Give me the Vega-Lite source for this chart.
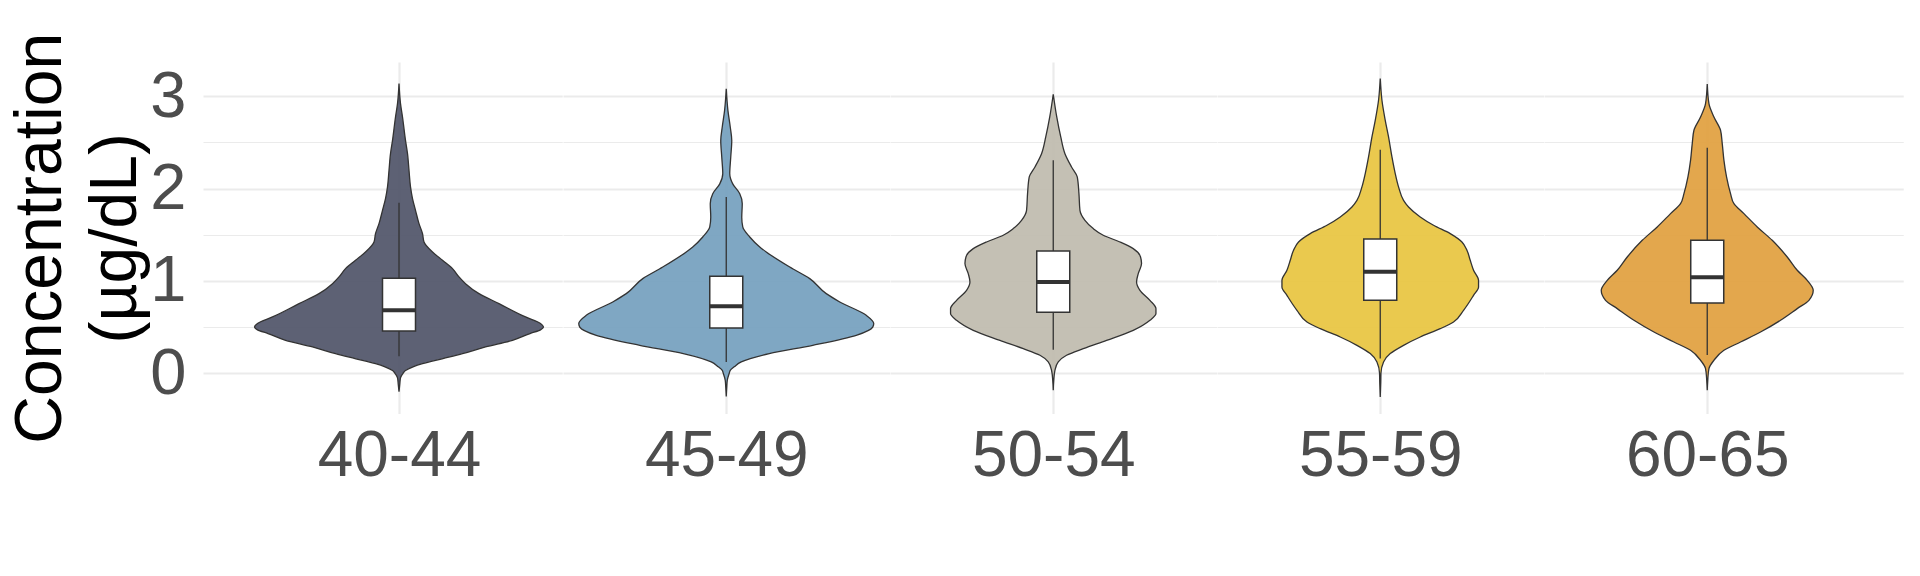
{
  "$schema": "https://vega.github.io/schema/vega-lite/v6.json",
  "background": "#FFFFFF",
  "padding": {"left": 7, "top": 32, "right": 5, "bottom": 5},
  "spacing": 0,
  "datasets": {
    "violin": [
      {"group": "40-44", "conc": -0.2, "density": 0},
      {"group": "40-44", "conc": -0.12, "density": 0.0075},
      {"group": "40-44", "conc": -0.05, "density": 0.015},
      {"group": "40-44", "conc": 0, "density": 0.04},
      {"group": "40-44", "conc": 0.03, "density": 0.065},
      {"group": "40-44", "conc": 0.07, "density": 0.14},
      {"group": "40-44", "conc": 0.105, "density": 0.235},
      {"group": "40-44", "conc": 0.16, "density": 0.44},
      {"group": "40-44", "conc": 0.213, "density": 0.635},
      {"group": "40-44", "conc": 0.285, "density": 0.865},
      {"group": "40-44", "conc": 0.357, "density": 1.135},
      {"group": "40-44", "conc": 0.43, "density": 1.31},
      {"group": "40-44", "conc": 0.47, "density": 1.415},
      {"group": "40-44", "conc": 0.5, "density": 1.445},
      {"group": "40-44", "conc": 0.54, "density": 1.415},
      {"group": "40-44", "conc": 0.61, "density": 1.265},
      {"group": "40-44", "conc": 0.754, "density": 1.0},
      {"group": "40-44", "conc": 0.862, "density": 0.8},
      {"group": "40-44", "conc": 0.97, "density": 0.665},
      {"group": "40-44", "conc": 1.043, "density": 0.6},
      {"group": "40-44", "conc": 1.133, "density": 0.535},
      {"group": "40-44", "conc": 1.223, "density": 0.435},
      {"group": "40-44", "conc": 1.313, "density": 0.335},
      {"group": "40-44", "conc": 1.421, "density": 0.25},
      {"group": "40-44", "conc": 1.512, "density": 0.235},
      {"group": "40-44", "conc": 1.62, "density": 0.2},
      {"group": "40-44", "conc": 1.764, "density": 0.165},
      {"group": "40-44", "conc": 1.89, "density": 0.135},
      {"group": "40-44", "conc": 2.017, "density": 0.115},
      {"group": "40-44", "conc": 2.197, "density": 0.1},
      {"group": "40-44", "conc": 2.377, "density": 0.085},
      {"group": "40-44", "conc": 2.52, "density": 0.065},
      {"group": "40-44", "conc": 2.774, "density": 0.035},
      {"group": "40-44", "conc": 2.918, "density": 0.015},
      {"group": "40-44", "conc": 3.135, "density": 0},
      {"group": "45-49", "conc": -0.25, "density": 0},
      {"group": "45-49", "conc": -0.15, "density": 0.005},
      {"group": "45-49", "conc": -0.076, "density": 0.01},
      {"group": "45-49", "conc": 0, "density": 0.03},
      {"group": "45-49", "conc": 0.032, "density": 0.04},
      {"group": "45-49", "conc": 0.07, "density": 0.08},
      {"group": "45-49", "conc": 0.123, "density": 0.15},
      {"group": "45-49", "conc": 0.213, "density": 0.43},
      {"group": "45-49", "conc": 0.303, "density": 0.865},
      {"group": "45-49", "conc": 0.411, "density": 1.3},
      {"group": "45-49", "conc": 0.5, "density": 1.465},
      {"group": "45-49", "conc": 0.538, "density": 1.475},
      {"group": "45-49", "conc": 0.628, "density": 1.4},
      {"group": "45-49", "conc": 0.772, "density": 1.135},
      {"group": "45-49", "conc": 0.862, "density": 1.0},
      {"group": "45-49", "conc": 1.025, "density": 0.835},
      {"group": "45-49", "conc": 1.15, "density": 0.635},
      {"group": "45-49", "conc": 1.313, "density": 0.4},
      {"group": "45-49", "conc": 1.367, "density": 0.335},
      {"group": "45-49", "conc": 1.475, "density": 0.235},
      {"group": "45-49", "conc": 1.584, "density": 0.165},
      {"group": "45-49", "conc": 1.69, "density": 0.155},
      {"group": "45-49", "conc": 1.836, "density": 0.16},
      {"group": "45-49", "conc": 1.944, "density": 0.135},
      {"group": "45-49", "conc": 2.05, "density": 0.065},
      {"group": "45-49", "conc": 2.16, "density": 0.035},
      {"group": "45-49", "conc": 2.34, "density": 0.045},
      {"group": "45-49", "conc": 2.52, "density": 0.055},
      {"group": "45-49", "conc": 2.666, "density": 0.04},
      {"group": "45-49", "conc": 2.846, "density": 0.0165},
      {"group": "45-49", "conc": 3.08, "density": 0},
      {"group": "50-54", "conc": -0.184, "density": 0},
      {"group": "50-54", "conc": -0.076, "density": 0.005},
      {"group": "50-54", "conc": 0.032, "density": 0.017},
      {"group": "50-54", "conc": 0.123, "density": 0.05},
      {"group": "50-54", "conc": 0.195, "density": 0.133},
      {"group": "50-54", "conc": 0.267, "density": 0.3},
      {"group": "50-54", "conc": 0.357, "density": 0.533},
      {"group": "50-54", "conc": 0.465, "density": 0.8},
      {"group": "50-54", "conc": 0.574, "density": 0.967},
      {"group": "50-54", "conc": 0.646, "density": 1.027},
      {"group": "50-54", "conc": 0.7, "density": 1.027},
      {"group": "50-54", "conc": 0.79, "density": 0.967},
      {"group": "50-54", "conc": 0.898, "density": 0.867},
      {"group": "50-54", "conc": 0.988, "density": 0.833},
      {"group": "50-54", "conc": 1.079, "density": 0.85},
      {"group": "50-54", "conc": 1.187, "density": 0.883},
      {"group": "50-54", "conc": 1.259, "density": 0.873},
      {"group": "50-54", "conc": 1.349, "density": 0.8},
      {"group": "50-54", "conc": 1.421, "density": 0.667},
      {"group": "50-54", "conc": 1.494, "density": 0.5},
      {"group": "50-54", "conc": 1.566, "density": 0.4},
      {"group": "50-54", "conc": 1.656, "density": 0.317},
      {"group": "50-54", "conc": 1.764, "density": 0.267},
      {"group": "50-54", "conc": 1.944, "density": 0.257},
      {"group": "50-54", "conc": 2.125, "density": 0.24},
      {"group": "50-54", "conc": 2.233, "density": 0.183},
      {"group": "50-54", "conc": 2.377, "density": 0.117},
      {"group": "50-54", "conc": 2.558, "density": 0.075},
      {"group": "50-54", "conc": 2.774, "density": 0.035},
      {"group": "50-54", "conc": 3.02, "density": 0},
      {"group": "55-59", "conc": -0.256, "density": 0},
      {"group": "55-59", "conc": -0.1, "density": 0.005},
      {"group": "55-59", "conc": 0, "density": 0.007},
      {"group": "55-59", "conc": 0.123, "density": 0.033},
      {"group": "55-59", "conc": 0.213, "density": 0.1},
      {"group": "55-59", "conc": 0.303, "density": 0.233},
      {"group": "55-59", "conc": 0.393, "density": 0.4},
      {"group": "55-59", "conc": 0.483, "density": 0.6},
      {"group": "55-59", "conc": 0.556, "density": 0.733},
      {"group": "55-59", "conc": 0.682, "density": 0.833},
      {"group": "55-59", "conc": 0.844, "density": 0.933},
      {"group": "55-59", "conc": 0.934, "density": 0.983},
      {"group": "55-59", "conc": 1.006, "density": 0.983},
      {"group": "55-59", "conc": 1.115, "density": 0.933},
      {"group": "55-59", "conc": 1.223, "density": 0.9},
      {"group": "55-59", "conc": 1.331, "density": 0.867},
      {"group": "55-59", "conc": 1.421, "density": 0.817},
      {"group": "55-59", "conc": 1.512, "density": 0.7},
      {"group": "55-59", "conc": 1.602, "density": 0.533},
      {"group": "55-59", "conc": 1.692, "density": 0.4},
      {"group": "55-59", "conc": 1.8, "density": 0.283},
      {"group": "55-59", "conc": 1.872, "density": 0.233},
      {"group": "55-59", "conc": 2.017, "density": 0.183},
      {"group": "55-59", "conc": 2.161, "density": 0.15},
      {"group": "55-59", "conc": 2.341, "density": 0.117},
      {"group": "55-59", "conc": 2.558, "density": 0.083},
      {"group": "55-59", "conc": 2.738, "density": 0.05},
      {"group": "55-59", "conc": 2.955, "density": 0.017},
      {"group": "55-59", "conc": 3.19, "density": 0},
      {"group": "60-65", "conc": -0.184, "density": 0},
      {"group": "60-65", "conc": -0.076, "density": 0.005},
      {"group": "60-65", "conc": 0.05, "density": 0.017},
      {"group": "60-65", "conc": 0.141, "density": 0.067},
      {"group": "60-65", "conc": 0.249, "density": 0.167},
      {"group": "60-65", "conc": 0.339, "density": 0.333},
      {"group": "60-65", "conc": 0.447, "density": 0.533},
      {"group": "60-65", "conc": 0.574, "density": 0.733},
      {"group": "60-65", "conc": 0.7, "density": 0.9},
      {"group": "60-65", "conc": 0.79, "density": 1.017},
      {"group": "60-65", "conc": 0.898, "density": 1.06},
      {"group": "60-65", "conc": 1.006, "density": 1.0},
      {"group": "60-65", "conc": 1.115, "density": 0.9},
      {"group": "60-65", "conc": 1.259, "density": 0.8},
      {"group": "60-65", "conc": 1.439, "density": 0.65},
      {"group": "60-65", "conc": 1.584, "density": 0.5},
      {"group": "60-65", "conc": 1.728, "density": 0.367},
      {"group": "60-65", "conc": 1.836, "density": 0.267},
      {"group": "60-65", "conc": 1.944, "density": 0.233},
      {"group": "60-65", "conc": 2.125, "density": 0.193},
      {"group": "60-65", "conc": 2.305, "density": 0.167},
      {"group": "60-65", "conc": 2.486, "density": 0.15},
      {"group": "60-65", "conc": 2.63, "density": 0.133},
      {"group": "60-65", "conc": 2.774, "density": 0.067},
      {"group": "60-65", "conc": 2.918, "density": 0.017},
      {"group": "60-65", "conc": 3.13, "density": 0}
    ],
    "box": [
      {"group": "40-44", "lo": 0.184, "q1": 0.458, "med": 0.682, "q3": 1.028, "hi": 1.847},
      {"group": "45-49", "lo": 0.123, "q1": 0.49, "med": 0.725, "q3": 1.05, "hi": 1.908},
      {"group": "50-54", "lo": 0.256, "q1": 0.66, "med": 0.988, "q3": 1.324, "hi": 2.305},
      {"group": "55-59", "lo": 0.159, "q1": 0.79, "med": 1.1, "q3": 1.454, "hi": 2.42},
      {"group": "60-65", "lo": 0.198, "q1": 0.76, "med": 1.04, "q3": 1.44, "hi": 2.44}
    ]
  },
  "hconcat": [
    {
      "width": 359.25, "height": 351.6,
      "layer": [
        {"data": {"name": "violin"},
         "transform": [{"stack": "density", "groupby": ["group", "conc"], "offset": "center", "as": ["x0", "x1"]}, {"filter": {"field": "group", "equal": "40-44"}}],
         "mark": {"type": "area", "orient": "horizontal", "interpolate": "monotone", "stroke": "#333333", "strokeWidth": 1.3, "fillOpacity": 0.92},
         "encoding": {
           "y": {"field": "conc", "type": "quantitative", "title": ["Concentration", "(µg/dL)"], "scale": {"domain": [-0.436, 3.369], "nice": false, "zero": false},
             "axis": {"values": [0, 0.5, 1, 1.5, 2, 2.5, 3], "labelExpr": "datum.value % 1 === 0 ? '' + datum.value : ''", "labelOverlap": false, "grid": true, "gridColor": "#EBEBEB", "gridWidth": {"condition": {"test": "datum.value % 1 === 0", "value": 2.2}, "value": 1.1}, "ticks": false, "domain": false, "labelFont": "Liberation Sans", "labelFontSize": 65, "labelColor": "#4D4D4D", "labelPadding": 17, "titleFont": "Liberation Sans", "titleFontSize": 66, "titleFontWeight": "normal", "titleColor": "#000000", "titleLineHeight": 75, "titlePadding": 0}},
           "x": {"field": "x0", "type": "quantitative", "scale": {"domain": [-0.2425, 1.55375], "nice": false, "zero": false},
             "axis": {"values": [0.7375], "labelExpr": "'40-44'", "grid": true, "gridColor": "#EBEBEB", "gridWidth": 2.2, "ticks": false, "domain": false, "labelFont": "Liberation Sans", "labelFontSize": 64, "labelColor": "#4D4D4D", "labelPadding": 11, "labelFlush": false, "title": null}},
           "x2": {"field": "x1"},
           "color": {"field": "group", "type": "nominal", "scale": {"domain": ["40-44", "45-49", "50-54", "55-59", "60-65"], "range": ["#4F5468", "#74A0BE", "#BFBBAE", "#E8C43F", "#E19F3E"]}, "legend": null}
         }},
        {"data": {"name": "box"}, "transform": [{"filter": {"field": "group", "equal": "40-44"}}],
         "mark": {"type": "rule", "color": "#333333", "strokeWidth": 1.3},
         "encoding": {"x": {"datum": 0.7375, "type": "quantitative"}, "y": {"field": "lo", "type": "quantitative", "title": ["Concentration", "(µg/dL)"]}, "y2": {"field": "hi"}}},
        {"data": {"name": "box"}, "transform": [{"filter": {"field": "group", "equal": "40-44"}}],
         "mark": {"type": "rect", "fill": "#FFFFFF", "stroke": "#333333", "strokeWidth": 1.5},
         "encoding": {"x": {"datum": 0.655, "type": "quantitative"}, "x2": {"datum": 0.82}, "y": {"field": "q1", "type": "quantitative", "title": ["Concentration", "(µg/dL)"]}, "y2": {"field": "q3"}}},
        {"data": {"name": "box"}, "transform": [{"filter": {"field": "group", "equal": "40-44"}}],
         "mark": {"type": "rule", "color": "#333333", "strokeWidth": 4},
         "encoding": {"x": {"datum": 0.655, "type": "quantitative"}, "x2": {"datum": 0.82}, "y": {"field": "med", "type": "quantitative", "title": ["Concentration", "(µg/dL)"]}}}
      ]
    },
    {
      "width": 326.5, "height": 351.6,
      "layer": [
        {"data": {"name": "violin"},
         "transform": [{"stack": "density", "groupby": ["group", "conc"], "offset": "center", "as": ["x0", "x1"]}, {"filter": {"field": "group", "equal": "45-49"}}],
         "mark": {"type": "area", "orient": "horizontal", "interpolate": "monotone", "stroke": "#333333", "strokeWidth": 1.3, "fillOpacity": 0.92},
         "encoding": {
           "y": {"field": "conc", "type": "quantitative", "title": null, "scale": {"domain": [-0.436, 3.369], "nice": false, "zero": false},
             "axis": {"values": [0, 0.5, 1, 1.5, 2, 2.5, 3], "labels": false, "grid": true, "gridColor": "#EBEBEB", "gridWidth": {"condition": {"test": "datum.value % 1 === 0", "value": 2.2}, "value": 1.1}, "ticks": false, "domain": false, "title": null}},
           "x": {"field": "x0", "type": "quantitative", "scale": {"domain": [-0.07875, 1.55375], "nice": false, "zero": false},
             "axis": {"values": [0.7375], "labelExpr": "'45-49'", "grid": true, "gridColor": "#EBEBEB", "gridWidth": 2.2, "ticks": false, "domain": false, "labelFont": "Liberation Sans", "labelFontSize": 64, "labelColor": "#4D4D4D", "labelPadding": 11, "labelFlush": false, "title": null}},
           "x2": {"field": "x1"},
           "color": {"field": "group", "type": "nominal", "scale": {"domain": ["40-44", "45-49", "50-54", "55-59", "60-65"], "range": ["#4F5468", "#74A0BE", "#BFBBAE", "#E8C43F", "#E19F3E"]}, "legend": null}
         }},
        {"data": {"name": "box"}, "transform": [{"filter": {"field": "group", "equal": "45-49"}}],
         "mark": {"type": "rule", "color": "#333333", "strokeWidth": 1.3},
         "encoding": {"x": {"datum": 0.7375, "type": "quantitative"}, "y": {"field": "lo", "type": "quantitative", "title": null}, "y2": {"field": "hi"}}},
        {"data": {"name": "box"}, "transform": [{"filter": {"field": "group", "equal": "45-49"}}],
         "mark": {"type": "rect", "fill": "#FFFFFF", "stroke": "#333333", "strokeWidth": 1.5},
         "encoding": {"x": {"datum": 0.655, "type": "quantitative"}, "x2": {"datum": 0.82}, "y": {"field": "q1", "type": "quantitative", "title": null}, "y2": {"field": "q3"}}},
        {"data": {"name": "box"}, "transform": [{"filter": {"field": "group", "equal": "45-49"}}],
         "mark": {"type": "rule", "color": "#333333", "strokeWidth": 4},
         "encoding": {"x": {"datum": 0.655, "type": "quantitative"}, "x2": {"datum": 0.82}, "y": {"field": "med", "type": "quantitative", "title": null}}}
      ]
    },
    {
      "width": 326.5, "height": 351.6,
      "layer": [
        {"data": {"name": "violin"},
         "transform": [{"stack": "density", "groupby": ["group", "conc"], "offset": "center", "as": ["x0", "x1"]}, {"filter": {"field": "group", "equal": "50-54"}}],
         "mark": {"type": "area", "orient": "horizontal", "interpolate": "monotone", "stroke": "#333333", "strokeWidth": 1.3, "fillOpacity": 0.92},
         "encoding": {
           "y": {"field": "conc", "type": "quantitative", "title": null, "scale": {"domain": [-0.436, 3.369], "nice": false, "zero": false},
             "axis": {"values": [0, 0.5, 1, 1.5, 2, 2.5, 3], "labels": false, "grid": true, "gridColor": "#EBEBEB", "gridWidth": {"condition": {"test": "datum.value % 1 === 0", "value": 2.2}, "value": 1.1}, "ticks": false, "domain": false, "title": null}},
           "x": {"field": "x0", "type": "quantitative", "scale": {"domain": [-0.07875, 1.55375], "nice": false, "zero": false},
             "axis": {"values": [0.7375], "labelExpr": "'50-54'", "grid": true, "gridColor": "#EBEBEB", "gridWidth": 2.2, "ticks": false, "domain": false, "labelFont": "Liberation Sans", "labelFontSize": 64, "labelColor": "#4D4D4D", "labelPadding": 11, "labelFlush": false, "title": null}},
           "x2": {"field": "x1"},
           "color": {"field": "group", "type": "nominal", "scale": {"domain": ["40-44", "45-49", "50-54", "55-59", "60-65"], "range": ["#4F5468", "#74A0BE", "#BFBBAE", "#E8C43F", "#E19F3E"]}, "legend": null}
         }},
        {"data": {"name": "box"}, "transform": [{"filter": {"field": "group", "equal": "50-54"}}],
         "mark": {"type": "rule", "color": "#333333", "strokeWidth": 1.3},
         "encoding": {"x": {"datum": 0.7375, "type": "quantitative"}, "y": {"field": "lo", "type": "quantitative", "title": null}, "y2": {"field": "hi"}}},
        {"data": {"name": "box"}, "transform": [{"filter": {"field": "group", "equal": "50-54"}}],
         "mark": {"type": "rect", "fill": "#FFFFFF", "stroke": "#333333", "strokeWidth": 1.5},
         "encoding": {"x": {"datum": 0.655, "type": "quantitative"}, "x2": {"datum": 0.82}, "y": {"field": "q1", "type": "quantitative", "title": null}, "y2": {"field": "q3"}}},
        {"data": {"name": "box"}, "transform": [{"filter": {"field": "group", "equal": "50-54"}}],
         "mark": {"type": "rule", "color": "#333333", "strokeWidth": 4},
         "encoding": {"x": {"datum": 0.655, "type": "quantitative"}, "x2": {"datum": 0.82}, "y": {"field": "med", "type": "quantitative", "title": null}}}
      ]
    },
    {
      "width": 326.5, "height": 351.6,
      "layer": [
        {"data": {"name": "violin"},
         "transform": [{"stack": "density", "groupby": ["group", "conc"], "offset": "center", "as": ["x0", "x1"]}, {"filter": {"field": "group", "equal": "55-59"}}],
         "mark": {"type": "area", "orient": "horizontal", "interpolate": "monotone", "stroke": "#333333", "strokeWidth": 1.3, "fillOpacity": 0.92},
         "encoding": {
           "y": {"field": "conc", "type": "quantitative", "title": null, "scale": {"domain": [-0.436, 3.369], "nice": false, "zero": false},
             "axis": {"values": [0, 0.5, 1, 1.5, 2, 2.5, 3], "labels": false, "grid": true, "gridColor": "#EBEBEB", "gridWidth": {"condition": {"test": "datum.value % 1 === 0", "value": 2.2}, "value": 1.1}, "ticks": false, "domain": false, "title": null}},
           "x": {"field": "x0", "type": "quantitative", "scale": {"domain": [-0.07875, 1.55375], "nice": false, "zero": false},
             "axis": {"values": [0.7375], "labelExpr": "'55-59'", "grid": true, "gridColor": "#EBEBEB", "gridWidth": 2.2, "ticks": false, "domain": false, "labelFont": "Liberation Sans", "labelFontSize": 64, "labelColor": "#4D4D4D", "labelPadding": 11, "labelFlush": false, "title": null}},
           "x2": {"field": "x1"},
           "color": {"field": "group", "type": "nominal", "scale": {"domain": ["40-44", "45-49", "50-54", "55-59", "60-65"], "range": ["#4F5468", "#74A0BE", "#BFBBAE", "#E8C43F", "#E19F3E"]}, "legend": null}
         }},
        {"data": {"name": "box"}, "transform": [{"filter": {"field": "group", "equal": "55-59"}}],
         "mark": {"type": "rule", "color": "#333333", "strokeWidth": 1.3},
         "encoding": {"x": {"datum": 0.7375, "type": "quantitative"}, "y": {"field": "lo", "type": "quantitative", "title": null}, "y2": {"field": "hi"}}},
        {"data": {"name": "box"}, "transform": [{"filter": {"field": "group", "equal": "55-59"}}],
         "mark": {"type": "rect", "fill": "#FFFFFF", "stroke": "#333333", "strokeWidth": 1.5},
         "encoding": {"x": {"datum": 0.655, "type": "quantitative"}, "x2": {"datum": 0.82}, "y": {"field": "q1", "type": "quantitative", "title": null}, "y2": {"field": "q3"}}},
        {"data": {"name": "box"}, "transform": [{"filter": {"field": "group", "equal": "55-59"}}],
         "mark": {"type": "rule", "color": "#333333", "strokeWidth": 4},
         "encoding": {"x": {"datum": 0.655, "type": "quantitative"}, "x2": {"datum": 0.82}, "y": {"field": "med", "type": "quantitative", "title": null}}}
      ]
    },
    {
      "width": 359.25, "height": 351.6,
      "layer": [
        {"data": {"name": "violin"},
         "transform": [{"stack": "density", "groupby": ["group", "conc"], "offset": "center", "as": ["x0", "x1"]}, {"filter": {"field": "group", "equal": "60-65"}}],
         "mark": {"type": "area", "orient": "horizontal", "interpolate": "monotone", "stroke": "#333333", "strokeWidth": 1.3, "fillOpacity": 0.92},
         "encoding": {
           "y": {"field": "conc", "type": "quantitative", "title": null, "scale": {"domain": [-0.436, 3.369], "nice": false, "zero": false},
             "axis": {"values": [0, 0.5, 1, 1.5, 2, 2.5, 3], "labels": false, "grid": true, "gridColor": "#EBEBEB", "gridWidth": {"condition": {"test": "datum.value % 1 === 0", "value": 2.2}, "value": 1.1}, "ticks": false, "domain": false, "title": null}},
           "x": {"field": "x0", "type": "quantitative", "scale": {"domain": [-0.07875, 1.7175], "nice": false, "zero": false},
             "axis": {"values": [0.7375], "labelExpr": "'60-65'", "grid": true, "gridColor": "#EBEBEB", "gridWidth": 2.2, "ticks": false, "domain": false, "labelFont": "Liberation Sans", "labelFontSize": 64, "labelColor": "#4D4D4D", "labelPadding": 11, "labelFlush": false, "title": null}},
           "x2": {"field": "x1"},
           "color": {"field": "group", "type": "nominal", "scale": {"domain": ["40-44", "45-49", "50-54", "55-59", "60-65"], "range": ["#4F5468", "#74A0BE", "#BFBBAE", "#E8C43F", "#E19F3E"]}, "legend": null}
         }},
        {"data": {"name": "box"}, "transform": [{"filter": {"field": "group", "equal": "60-65"}}],
         "mark": {"type": "rule", "color": "#333333", "strokeWidth": 1.3},
         "encoding": {"x": {"datum": 0.7375, "type": "quantitative"}, "y": {"field": "lo", "type": "quantitative", "title": null}, "y2": {"field": "hi"}}},
        {"data": {"name": "box"}, "transform": [{"filter": {"field": "group", "equal": "60-65"}}],
         "mark": {"type": "rect", "fill": "#FFFFFF", "stroke": "#333333", "strokeWidth": 1.5},
         "encoding": {"x": {"datum": 0.655, "type": "quantitative"}, "x2": {"datum": 0.82}, "y": {"field": "q1", "type": "quantitative", "title": null}, "y2": {"field": "q3"}}},
        {"data": {"name": "box"}, "transform": [{"filter": {"field": "group", "equal": "60-65"}}],
         "mark": {"type": "rule", "color": "#333333", "strokeWidth": 4},
         "encoding": {"x": {"datum": 0.655, "type": "quantitative"}, "x2": {"datum": 0.82}, "y": {"field": "med", "type": "quantitative", "title": null}}}
      ]
    }
  ],
  "config": {"view": {"stroke": null}, "concat": {"spacing": 0}}
}
